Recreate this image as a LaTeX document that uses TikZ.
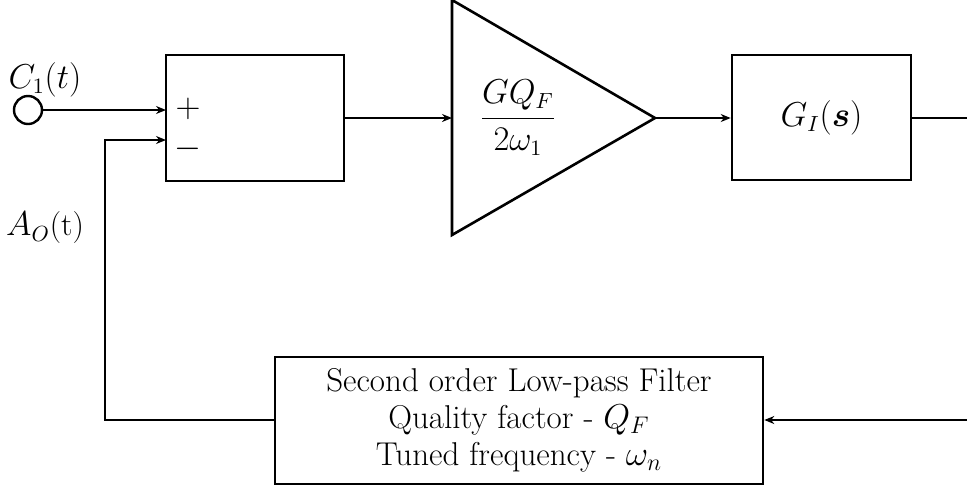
\documentclass[tikz,border=0pt]{standalone}
\usepackage{amsmath}
\usepackage{bm}
\usetikzlibrary{arrows.meta}
\begin{document}
\begin{tikzpicture}[x=0.5pt,y=-0.5pt,
  wire/.style={line width=1.2pt},
  arr/.style={wire,-{Stealth[length=5pt,width=4pt]}},
  blockbox/.style={draw,line width=1.3pt,rectangle,inner sep=0pt},
  lbl/.style={font=\fontsize{16}{18.5}\selectfont,inner sep=0pt}
]
\useasboundingbox (0,0) rectangle (967,488);
% input terminal
\node[draw,circle,line width=1.2pt,minimum size=14pt,inner sep=0pt] (in) at (28,110) {};
\node[lbl] (c1) at (45,80) {$C_1(t)$};
% summing block
\node[blockbox,minimum width=89pt,minimum height=63pt] (sum) at (255,118) {};
\node[lbl] (plus) at (188,109) {$+$};
\node[lbl] (minus) at (188,149) {$-$};
\coordinate (sumA) at (166,110);
\coordinate (sumB) at (166,140);
% amplifier
\coordinate (tt) at (452,0);
\coordinate (tb) at (452,235);
\coordinate (tip) at (655,118);
\coordinate (tin) at (452,118);
\draw[line width=1.3pt,line join=miter] (tt) -- (tip) -- (tb) -- cycle;
\node[lbl] (gain) at (518,118) {$\dfrac{GQ_F}{2\omega_1}$};
% G_I block
\node[blockbox,minimum width=89.5pt,minimum height=62.5pt] (gi) at (821.5,117.5) {};
\node[lbl] (gitext) at (821.5,117.5) {$G_I(\bm{s})$};
\coordinate (outR) at (967,118);
% filter
\node[blockbox,minimum width=244pt,minimum height=63.5pt,align=center,font=\fontsize{16.5}{18.5}\selectfont] (lpf) at (519,420.5)
  {Second order Low-pass Filter\\Quality factor - $Q_F$\\Tuned frequency - $\omega_n$};
\coordinate (fbR) at (967,420);
\coordinate (fbL) at (105,420);
\coordinate (fbT) at (105,140);
\node[lbl] (ao) at (45,228) {$A_O$(t)};
% connectors
\draw[arr] (in.east) -- (sumA);
\draw[arr] (sum.east |- tin) -- (tin);
\draw[arr] (tip) -- (gi.west |- tip);
\draw[wire] (gi.east |- outR) -- (outR);
\draw[arr] (fbR) -- (lpf.east |- fbR);
\draw[arr] (lpf.west |- fbL) -- (fbL) -- (fbT) -- (sumB);
\end{tikzpicture}
\end{document}
